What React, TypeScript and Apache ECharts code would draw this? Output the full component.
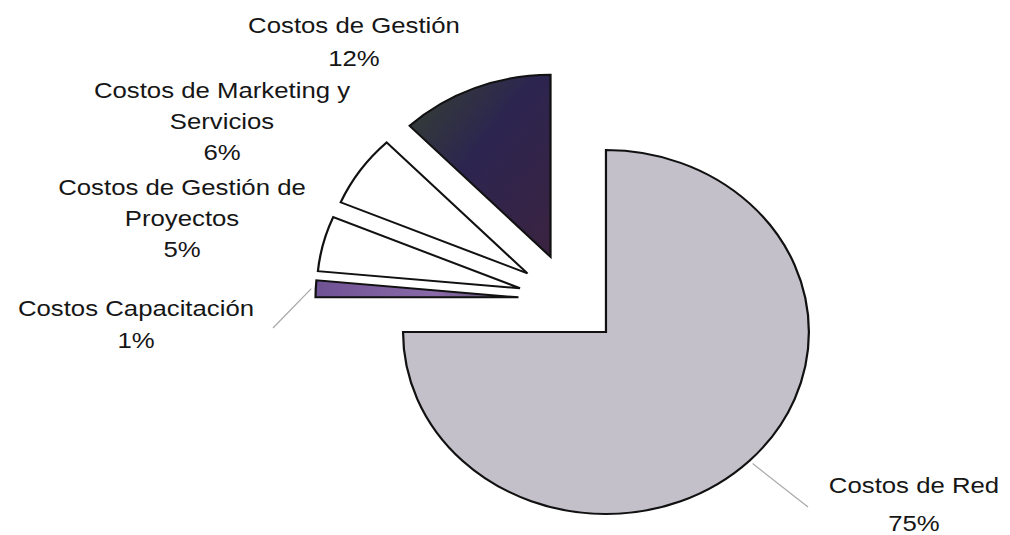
import React, { useEffect, useRef } from "react";
import * as echarts from "echarts";

// ---- Data ----
const categories = [
  "Costos de Red",
  "Costos Capacitación",
  "Costos de Gestión de Proyectos",
  "Costos de Marketing y Servicios",
  "Costos de Gestión",
];
const labelNames = [
  "Costos de Red",
  "Costos Capacitación",
  "Costos de Gestión de\nProyectos",
  "Costos de Marketing y\nServicios",
  "Costos de Gestión",
];
const values = [75.0, 1.49, 4.9, 6.4, 12.21];

// ---- Styles / layout ----
const sliceColors: any[] = [
  "#c3c0ca",
  {
    type: "linear", x: 0, y: 0, x2: 1, y2: 0,
    colorStops: [
      { offset: 0, color: "#6f5294" },
      { offset: 0.6, color: "#8a6aa8" },
      { offset: 1, color: "#55506a" },
    ],
  },
  "#ffffff",
  "#ffffff",
  {
    type: "linear", x: 0, y: 0, x2: 1, y2: 1,
    colorStops: [
      { offset: 0, color: "#36432f" },
      { offset: 0.45, color: "#2c2550" },
      { offset: 1, color: "#3b2340" },
    ],
  },
];
const CENTER_X = 569.7;
const CENTER_Y = 299.5;
const RADIUS = 182;
const STRETCH_X = 1.115;
const EXPLODE = 46;
const FONT = "'Liberation Sans', Arial, Helvetica, sans-serif";
const FONT_SIZE = 23;
const TEXT_SCALE_X = 1.12;
// label anchors: x center, first-line middle y, line height, leader end
const labelLayout = [
  { x: 914, y: 485, lh: 38, end: [808, 507] },
  { x: 136, y: 308, lh: 32, end: [273, 328] },
  { x: 182, y: 187, lh: 31, end: null },
  { x: 222, y: 90, lh: 31, end: null },
  { x: 354, y: 25, lh: 33, end: null },
];

export default function App() {
  const ref = useRef<HTMLDivElement>(null);
  useEffect(() => {
    if (!ref.current) return;
    const chart = echarts.init(ref.current, null, { renderer: "svg" });
    const total = values.reduce((a, b) => a + b, 0);
    const starts: number[] = [];
    let acc = 0;
    values.forEach((v) => {
      starts.push((acc / total) * 360);
      acc += v;
    });
    const rad = (d: number) => (d * Math.PI) / 180;

    const option: any = {
      animation: false,
      backgroundColor: "#ffffff",
      series: [
        {
          type: "custom",
          coordinateSystem: "none",
          data: values.map((v, i) => ({ value: v, name: categories[i] })),
          renderItem: (params: any, api: any) => {
            const i = params.dataIndex;
            const v = api.value(0);
            const a0 = starts[i];
            const a1 = a0 + (v / total) * 360;
            const mid = (a0 + a1) / 2;
            const ox = EXPLODE * Math.sin(rad(mid));
            const oy = -EXPLODE * Math.cos(rad(mid));
            const pct = Math.round((v / total) * 100) + "%";
            const lay = labelLayout[i];
            const children: any[] = [
              {
                type: "group",
                x: CENTER_X,
                y: CENTER_Y,
                scaleX: STRETCH_X,
                children: [
                  {
                    type: "sector",
                    shape: {
                      cx: ox,
                      cy: oy,
                      r0: 0,
                      r: RADIUS,
                      startAngle: rad(a0 - 90),
                      endAngle: rad(a1 - 90),
                      clockwise: true,
                    },
                    style: {
                      fill: sliceColors[i],
                      stroke: "#111111",
                      lineWidth: 2,
                      strokeNoScale: true,
                    },
                  },
                ],
              },
              {
                type: "text",
                x: lay.x,
                y: lay.y - lay.lh / 2,
                scaleX: TEXT_SCALE_X,
                style: {
                  text: labelNames[i] + "\n" + pct,
                  fill: "#161616",
                  fontSize: FONT_SIZE,
                  fontFamily: FONT,
                  align: "center",
                  verticalAlign: "top",
                  lineHeight: lay.lh,
                },
              },
            ];
            if (lay.end) {
              const sx = CENTER_X + STRETCH_X * (ox + (RADIUS + 4) * Math.sin(rad(mid)));
              const sy = CENTER_Y + oy - (RADIUS + 4) * Math.cos(rad(mid));
              children.push({
                type: "line",
                shape: { x1: sx, y1: sy, x2: lay.end[0], y2: lay.end[1] },
                style: { stroke: "#a8a8a8", lineWidth: 1.2 },
              });
            }
            return { type: "group", children };
          },
        },
      ],
    };
    chart.setOption(option);
    return () => chart.dispose();
  }, []);
  return (
    <div
      ref={ref}
      style={{ position: "absolute", left: 0, top: 0, width: 1010, height: 535 }}
    />
  );
}
